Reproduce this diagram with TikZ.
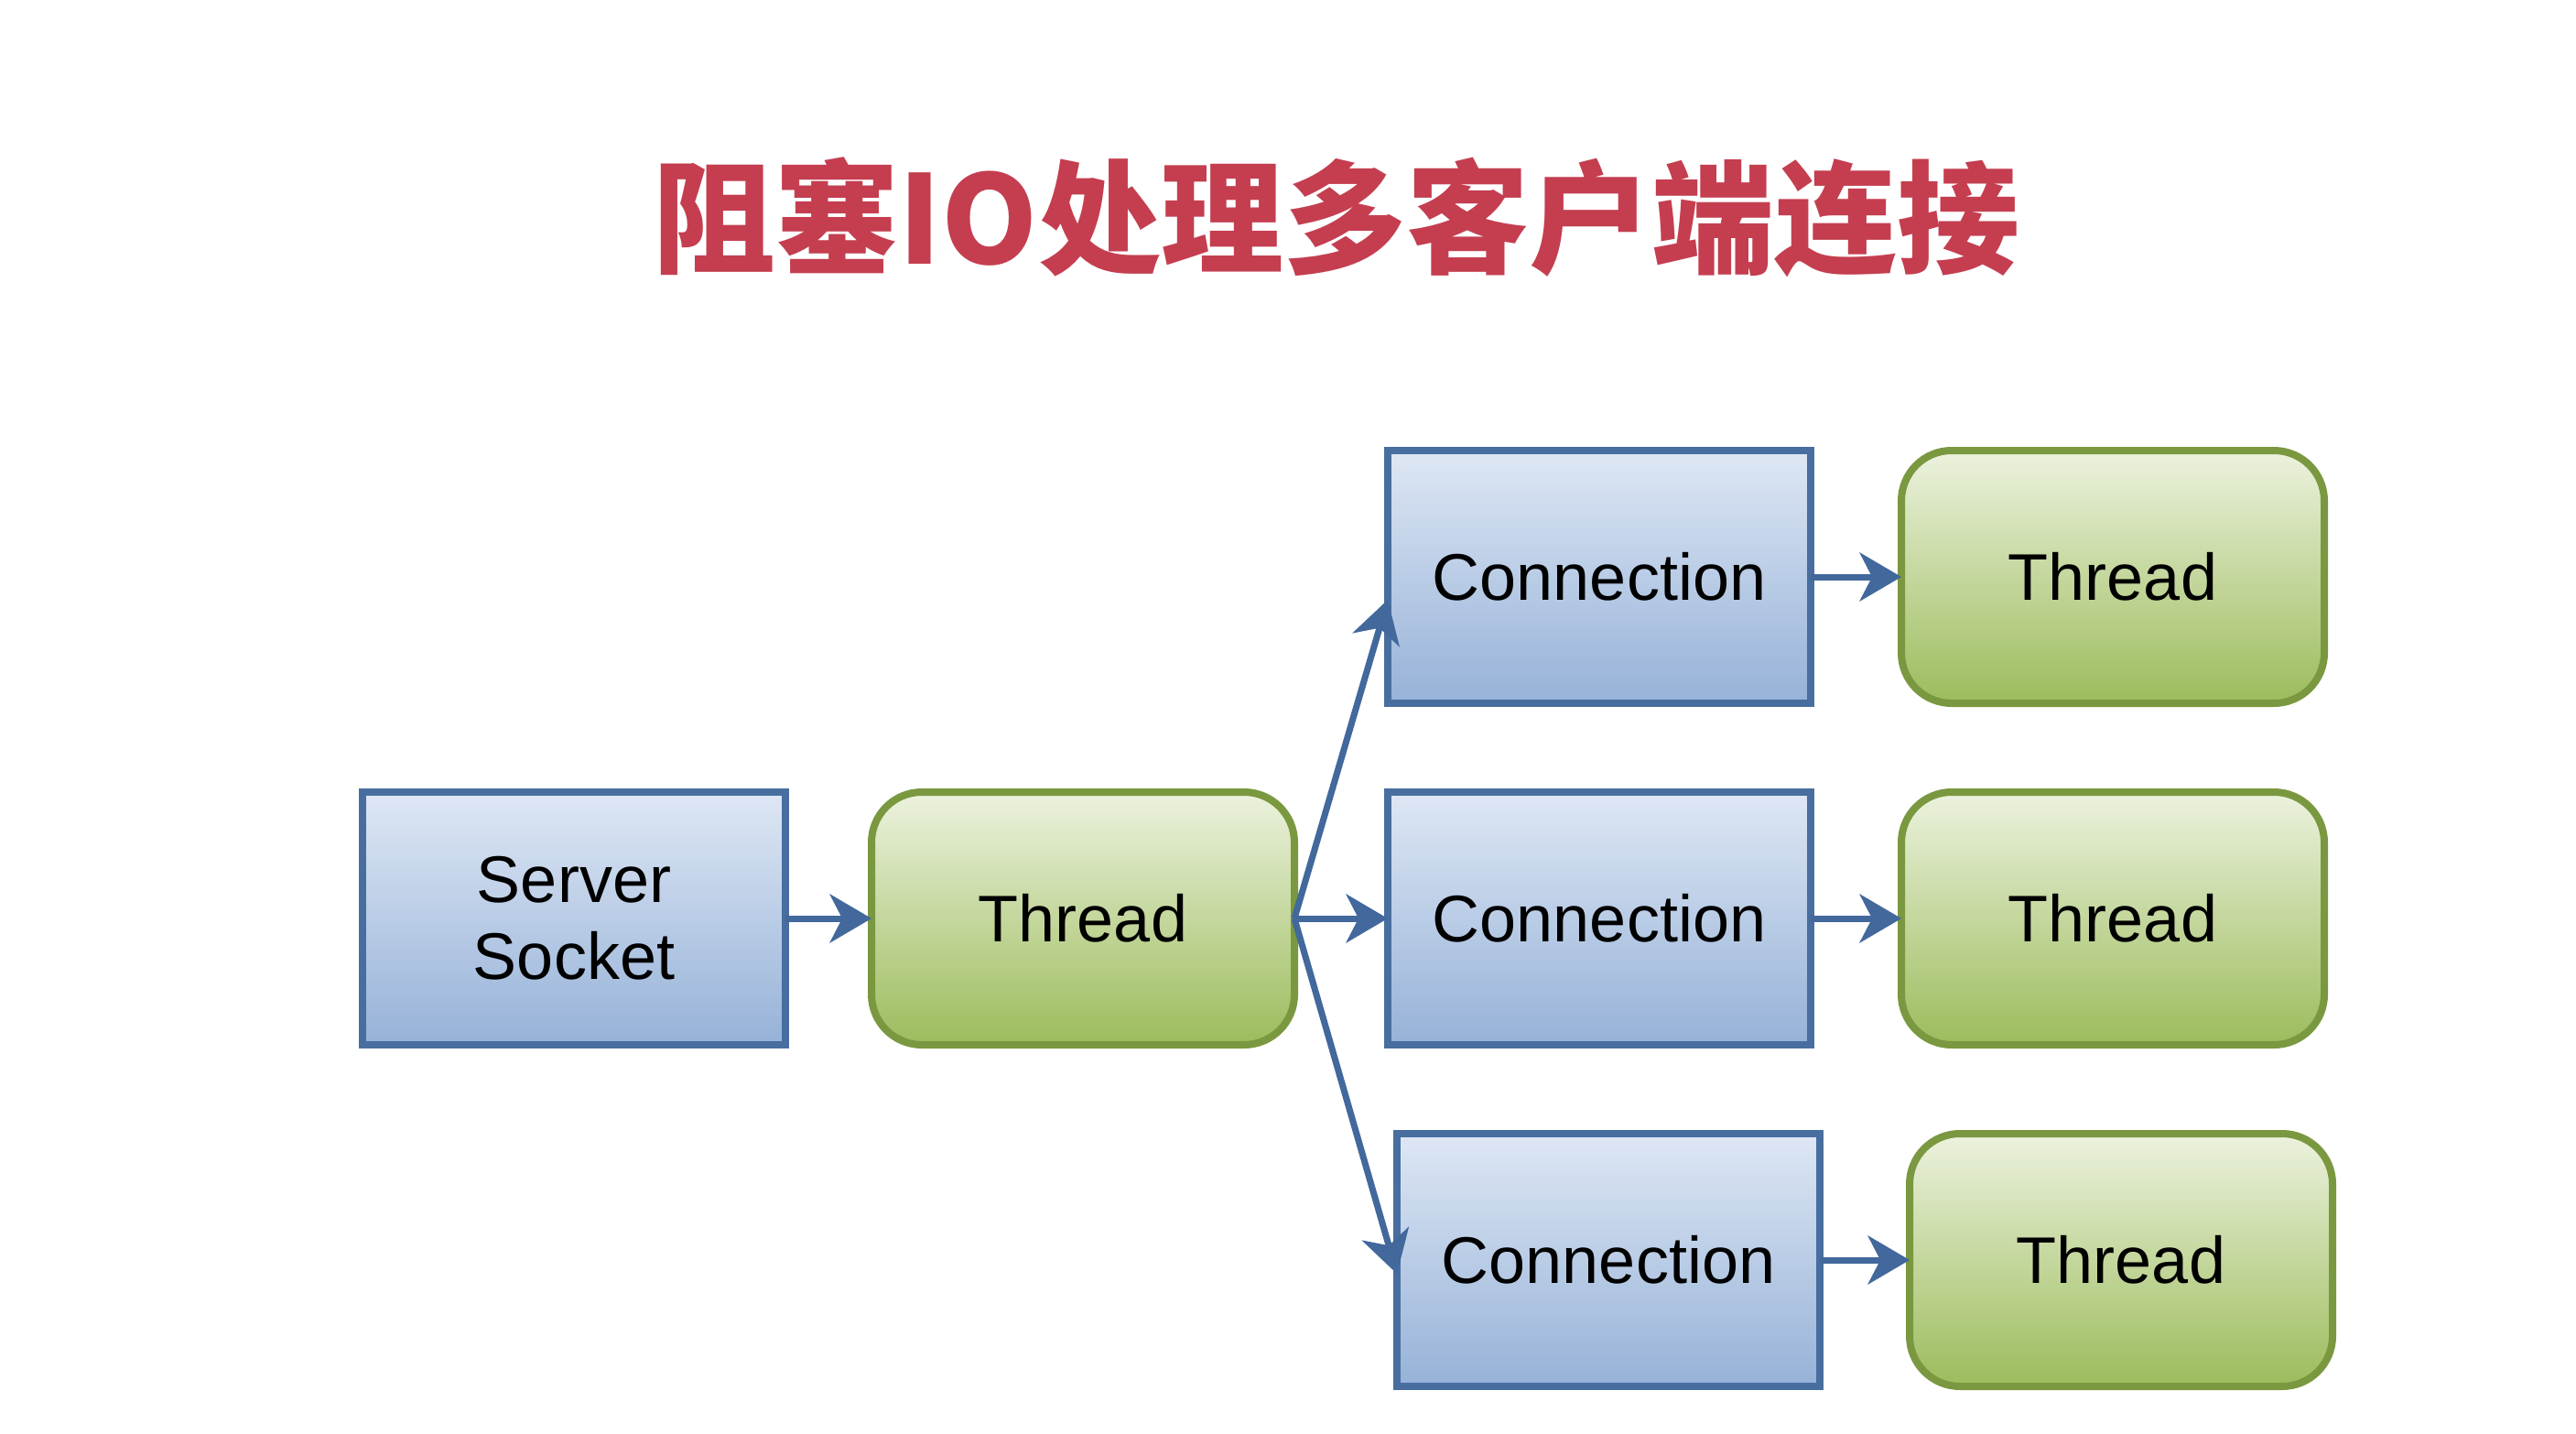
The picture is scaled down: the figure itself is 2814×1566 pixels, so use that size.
\documentclass[tikz,border=0pt]{standalone}
\usepackage{fontspec}
\setmainfont{Liberation Sans}
\newfontfamily\cjk{Noto Sans CJK SC}
\usetikzlibrary{arrows.meta}
\definecolor{titlered}{RGB}{196,62,80}
\definecolor{blueedge}{RGB}{72,110,160}
\definecolor{bluetop}{RGB}{222,231,244}
\definecolor{bluebot}{RGB}{150,178,216}
\definecolor{greenedge}{RGB}{122,152,64}
\definecolor{greentop}{RGB}{236,242,222}
\definecolor{greenbot}{RGB}{156,188,92}
\definecolor{arrowblue}{RGB}{66,104,156}
\tikzset{
  boxbase/.style={minimum width=462pt, minimum height=276pt, line width=8pt,
    inner sep=0pt, outer sep=0pt, align=center, text=black,
    font=\fontsize{72}{84}\selectfont},
  connbox/.style={boxbase, draw=blueedge, top color=bluetop, bottom color=bluebot},
  threadbox/.style={boxbase, draw=greenedge, top color=greentop, bottom color=greenbot,
    rounded corners=55pt},
  flow/.style={draw=arrowblue, line width=7pt,
    -{Stealth[length=46pt,width=54pt,inset=14pt,line width=0pt,fill=arrowblue]}}
}
\begin{document}
\begin{tikzpicture}[x=1pt,y=-1pt]
\useasboundingbox (0,0) rectangle (2814,1566);
\fill[white] (0,0) rectangle (2814,1566);
\node[text=titlered, font={\cjk\bfseries\fontsize{134}{160}\selectfont}] (title) at (1460,237) {阻塞IO处理多客户端连接};
\node[connbox] (ss) at (627,1003) {Server\\Socket};
\node[threadbox] (t0) at (1183,1003) {Thread};
\node[connbox] (c1) at (1747,630) {Connection};
\node[threadbox] (t1) at (2308,630) {Thread};
\node[connbox] (c2) at (1747,1003) {Connection};
\node[threadbox] (t2) at (2308,1003) {Thread};
\node[connbox] (c3) at (1757,1376) {Connection};
\node[threadbox] (t3) at (2317,1376) {Thread};
\draw[flow] (ss.east) -- (t0.west);
\draw[flow] (t0.east) -- ([yshift=-25pt]c1.west);
\draw[flow] (t0.east) -- (c2.west);
\draw[flow] (t0.east) -- ([yshift=-15pt]c3.west);
\draw[flow] (c1.east) -- (t1.west);
\draw[flow] (c2.east) -- (t2.west);
\draw[flow] (c3.east) -- (t3.west);
\end{tikzpicture}
\end{document}
